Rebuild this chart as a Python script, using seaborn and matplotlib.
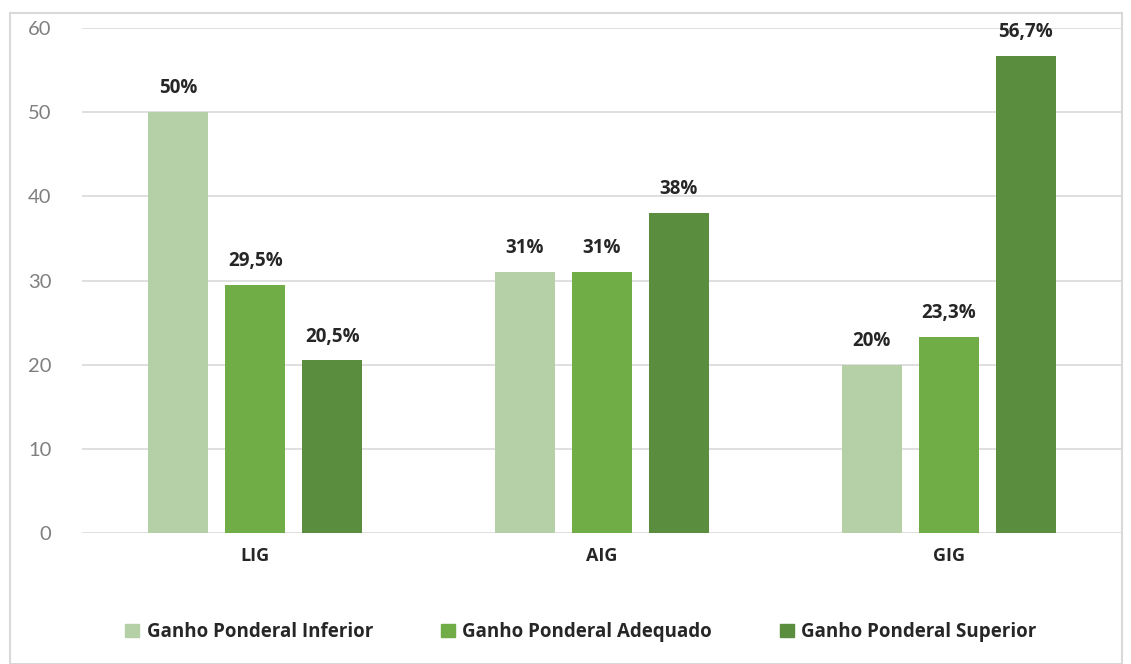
import matplotlib
matplotlib.use("Agg")
import matplotlib.pyplot as plt
import matplotlib.patches as mpatches
import seaborn as sns
import pandas as pd

groups = ["LIG", "AIG", "GIG"]
series = ["Ganho Ponderal Inferior", "Ganho Ponderal Adequado", "Ganho Ponderal Superior"]
inferior = [50, 31, 20]
adequado = [29.5, 31, 23.3]
superior = [20.5, 38, 56.7]
labels = {
    "Ganho Ponderal Inferior": ["50%", "31%", "20%"],
    "Ganho Ponderal Adequado": ["29,5%", "31%", "23,3%"],
    "Ganho Ponderal Superior": ["20,5%", "38%", "56,7%"],
}
colors = ["#B5D0A7", "#70AD47", "#5A8E3E"]

df = pd.DataFrame({
    "grupo": groups * 3,
    "serie": [series[0]] * 3 + [series[1]] * 3 + [series[2]] * 3,
    "valor": inferior + adequado + superior,
})

sns.set_style("white")
plt.rcParams["font.family"] = ["Lato", "DejaVu Sans"]
bold = ["Open Sans", "DejaVu Sans"]

fig = plt.figure(figsize=(11.31, 6.64), dpi=100)
ax = fig.add_axes([82 / 1131, 1 - 533 / 664, 1040 / 1131, 505 / 664])

sns.barplot(data=df, x="grupo", y="valor", hue="serie", hue_order=series,
            palette=colors, width=0.666, gap=0.22, saturation=1, ax=ax,
            legend=True, linewidth=0)

for cont, s in zip(ax.containers, series):
    ax.bar_label(cont, labels=labels[s], padding=10, fontsize=13.5,
                 fontweight="bold", color="#262626", family=bold)

ax.set_ylim(0, 60)
ax.set_xlim(-0.5, 2.5)
ax.set_yticks(range(0, 61, 10))
ax.yaxis.grid(True, color="#d9d9d9", linewidth=1.2)
ax.set_axisbelow(True)
for sp in ax.spines.values():
    sp.set_visible(False)
ax.set_xlabel("")
ax.set_ylabel("")
ax.tick_params(axis="y", length=0, labelsize=14.5, labelcolor="#7f7f7f", pad=22)
ax.tick_params(axis="x", length=0, labelsize=13, pad=10)
for t in ax.get_xticklabels():
    t.set_fontweight("bold")
    t.set_family(bold)
    t.set_color("#262626")

handles = [mpatches.Patch(color=c) for c in colors]
ax.legend(handles, series, loc="center", bbox_to_anchor=(581 / 1131, 1 - 632 / 664),
          bbox_transform=fig.transFigure, ncol=3, frameon=False,
          prop={"weight": "bold", "size": 13.5, "family": bold},
          handlelength=0.75, handleheight=0.75,
          handletextpad=0.4, columnspacing=3.6, labelcolor="#262626")

fig.patches.append(mpatches.Rectangle((10 / 1131, 0), 1112 / 1131, 1 - 13 / 664,
                                      transform=fig.transFigure, fill=False,
                                      edgecolor="#d9d9d9", linewidth=1.5))

fig.savefig("out.png", dpi=100)
